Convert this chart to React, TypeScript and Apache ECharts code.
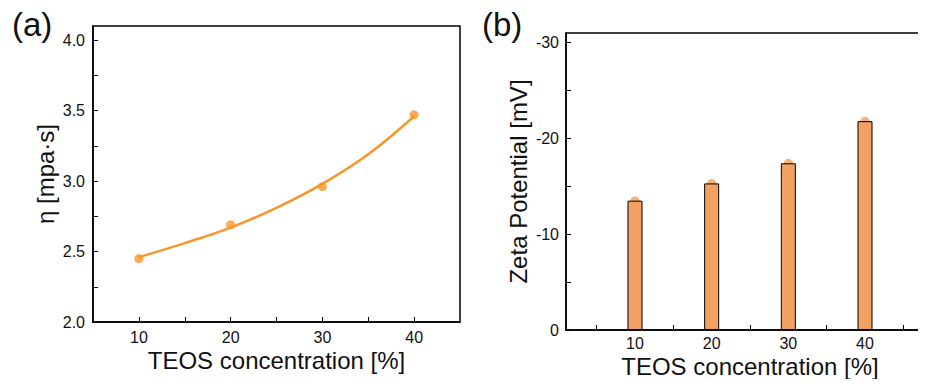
import React, { useEffect, useRef } from "react";
import * as echarts from "echarts";

const teosA = [10, 20, 30, 40];
const viscosity = [2.45, 2.69, 2.96, 3.47];
const fitX = [10, 15, 20, 25, 30, 35, 40];
const fitY = [2.46, 2.56, 2.67, 2.81, 2.98, 3.19, 3.46];
const teosB = [10, 20, 30, 40];
const zeta = [-13.5, -15.3, -17.4, -21.8];
const xLabelsA = [10, 20, 30, 40];
const xTicksA = [10, 15, 20, 25, 30, 35, 40];
const yLabelsA = [2, 2.5, 3, 3.5, 4];
const yTicksA = [2, 2.25, 2.5, 2.75, 3, 3.25, 3.5, 3.75, 4];
const xLabelsB = [10, 20, 30, 40];
const xTicksB = [5, 10, 15, 20, 25, 30, 35, 40, 45];
const yLabelsB = [0, -10, -20, -30];
const yTicksB = [0, -5, -10, -15, -20, -25, -30];

const FONT = "'Liberation Sans', Arial, sans-serif";
const ORANGE = "#F7962B";
const BAR = "#F2A162";

export default function App() {
  const ref = useRef<HTMLDivElement>(null);
  useEffect(() => {
    const chart = echarts.init(ref.current!, null, { renderer: "svg" });
    const axisLine = { show: true, onZero: false, lineStyle: { color: "#000", width: 1.5 } };
    const tick = (vals: number[]) => ({
      show: true,
      inside: true,
      length: 5,
      customValues: vals,
      lineStyle: { color: "#000", width: 1 },
    });
    const label = (vals: number[], margin: number, fmt?: (v: number) => string) => ({
      customValues: vals,
      color: "#111",
      fontSize: 16,
      fontFamily: FONT,
      margin,
      formatter: fmt,
      hideOverlap: false,
    });
    const nameStyle = { color: "#111", fontSize: 24, fontFamily: FONT };
    chart.setOption({
      animation: false,
      backgroundColor: "#fff",
      textStyle: { fontFamily: FONT },
      grid: [
        { left: 93, top: 26, width: 367, height: 296, show: true, borderColor: "#000", borderWidth: 1.5, backgroundColor: "transparent", outerBoundsMode: "none", containLabel: false },
        { left: 566, top: 33, width: 368, height: 297, show: true, borderColor: "#000", borderWidth: 1.5, backgroundColor: "transparent", outerBoundsMode: "none", containLabel: false },
      ],
      xAxis: [
        {
          type: "value", gridIndex: 0, min: 5, max: 45,
          axisLine, axisTick: tick(xTicksA), axisLabel: label(xLabelsA, 7), splitLine: { show: false },
          name: "TEOS concentration [%]", nameLocation: "middle", nameGap: 26, nameMoveOverlap: false, nameTextStyle: nameStyle,
        },
        {
          type: "value", gridIndex: 1, min: 1, max: 49,
          axisLine, axisTick: tick(xTicksB), axisLabel: label(xLabelsB, 5), splitLine: { show: false },
          name: "TEOS concentration [%]", nameLocation: "middle", nameGap: 24, nameMoveOverlap: false, nameTextStyle: nameStyle,
        },
      ],
      yAxis: [
        {
          type: "value", gridIndex: 0, min: 2, max: 4.1,
          axisLine, axisTick: tick(yTicksA),
          axisLabel: label(yLabelsA, 8, (v: number) => v.toFixed(1)), splitLine: { show: false },
          name: "η [mpa·s]", nameLocation: "middle", nameGap: 36, nameMoveOverlap: false, nameTextStyle: nameStyle,
        },
        {
          type: "value", gridIndex: 1, min: -31, max: 0, inverse: true,
          axisLine, axisTick: tick(yTicksB),
          axisLabel: label(yLabelsB, 7, (v: number) => String(v)), splitLine: { show: false },
          name: "Zeta Potential [mV]", nameLocation: "middle", nameGap: 36, nameMoveOverlap: false, nameTextStyle: nameStyle,
        },
      ],
      series: [
        {
          type: "line", xAxisIndex: 0, yAxisIndex: 0, smooth: 0.4, showSymbol: false,
          data: fitX.map((x, i) => [x, fitY[i]]),
          lineStyle: { color: ORANGE, width: 2.5 }, z: 2,
        },
        {
          type: "scatter", xAxisIndex: 0, yAxisIndex: 0, symbolSize: 9,
          data: teosA.map((x, i) => [x, viscosity[i]]),
          itemStyle: { color: ORANGE }, z: 3,
        },
        {
          type: "scatter", xAxisIndex: 1, yAxisIndex: 1, symbolSize: 9,
          data: teosB.map((x, i) => [x, zeta[i]]),
          itemStyle: { color: "#F3A05C" }, z: 1,
        },
        {
          type: "bar", xAxisIndex: 1, yAxisIndex: 1, barWidth: 15,
          data: teosB.map((x, i) => [x, zeta[i]]),
          itemStyle: { color: BAR, borderColor: "#000", borderWidth: 1 }, z: 2,
        },
      ],
      graphic: [
        { type: "text", left: 12, top: 8, style: { text: "(a)", fontSize: 33, fontFamily: FONT, fill: "#111" } },
        { type: "text", left: 482, top: 8, style: { text: "(b)", fontSize: 33, fontFamily: FONT, fill: "#111" } },
      ],
    });
    return () => chart.dispose();
  }, []);
  return <div ref={ref} style={{ width: 926, height: 387, margin: -8 }} />;
}
